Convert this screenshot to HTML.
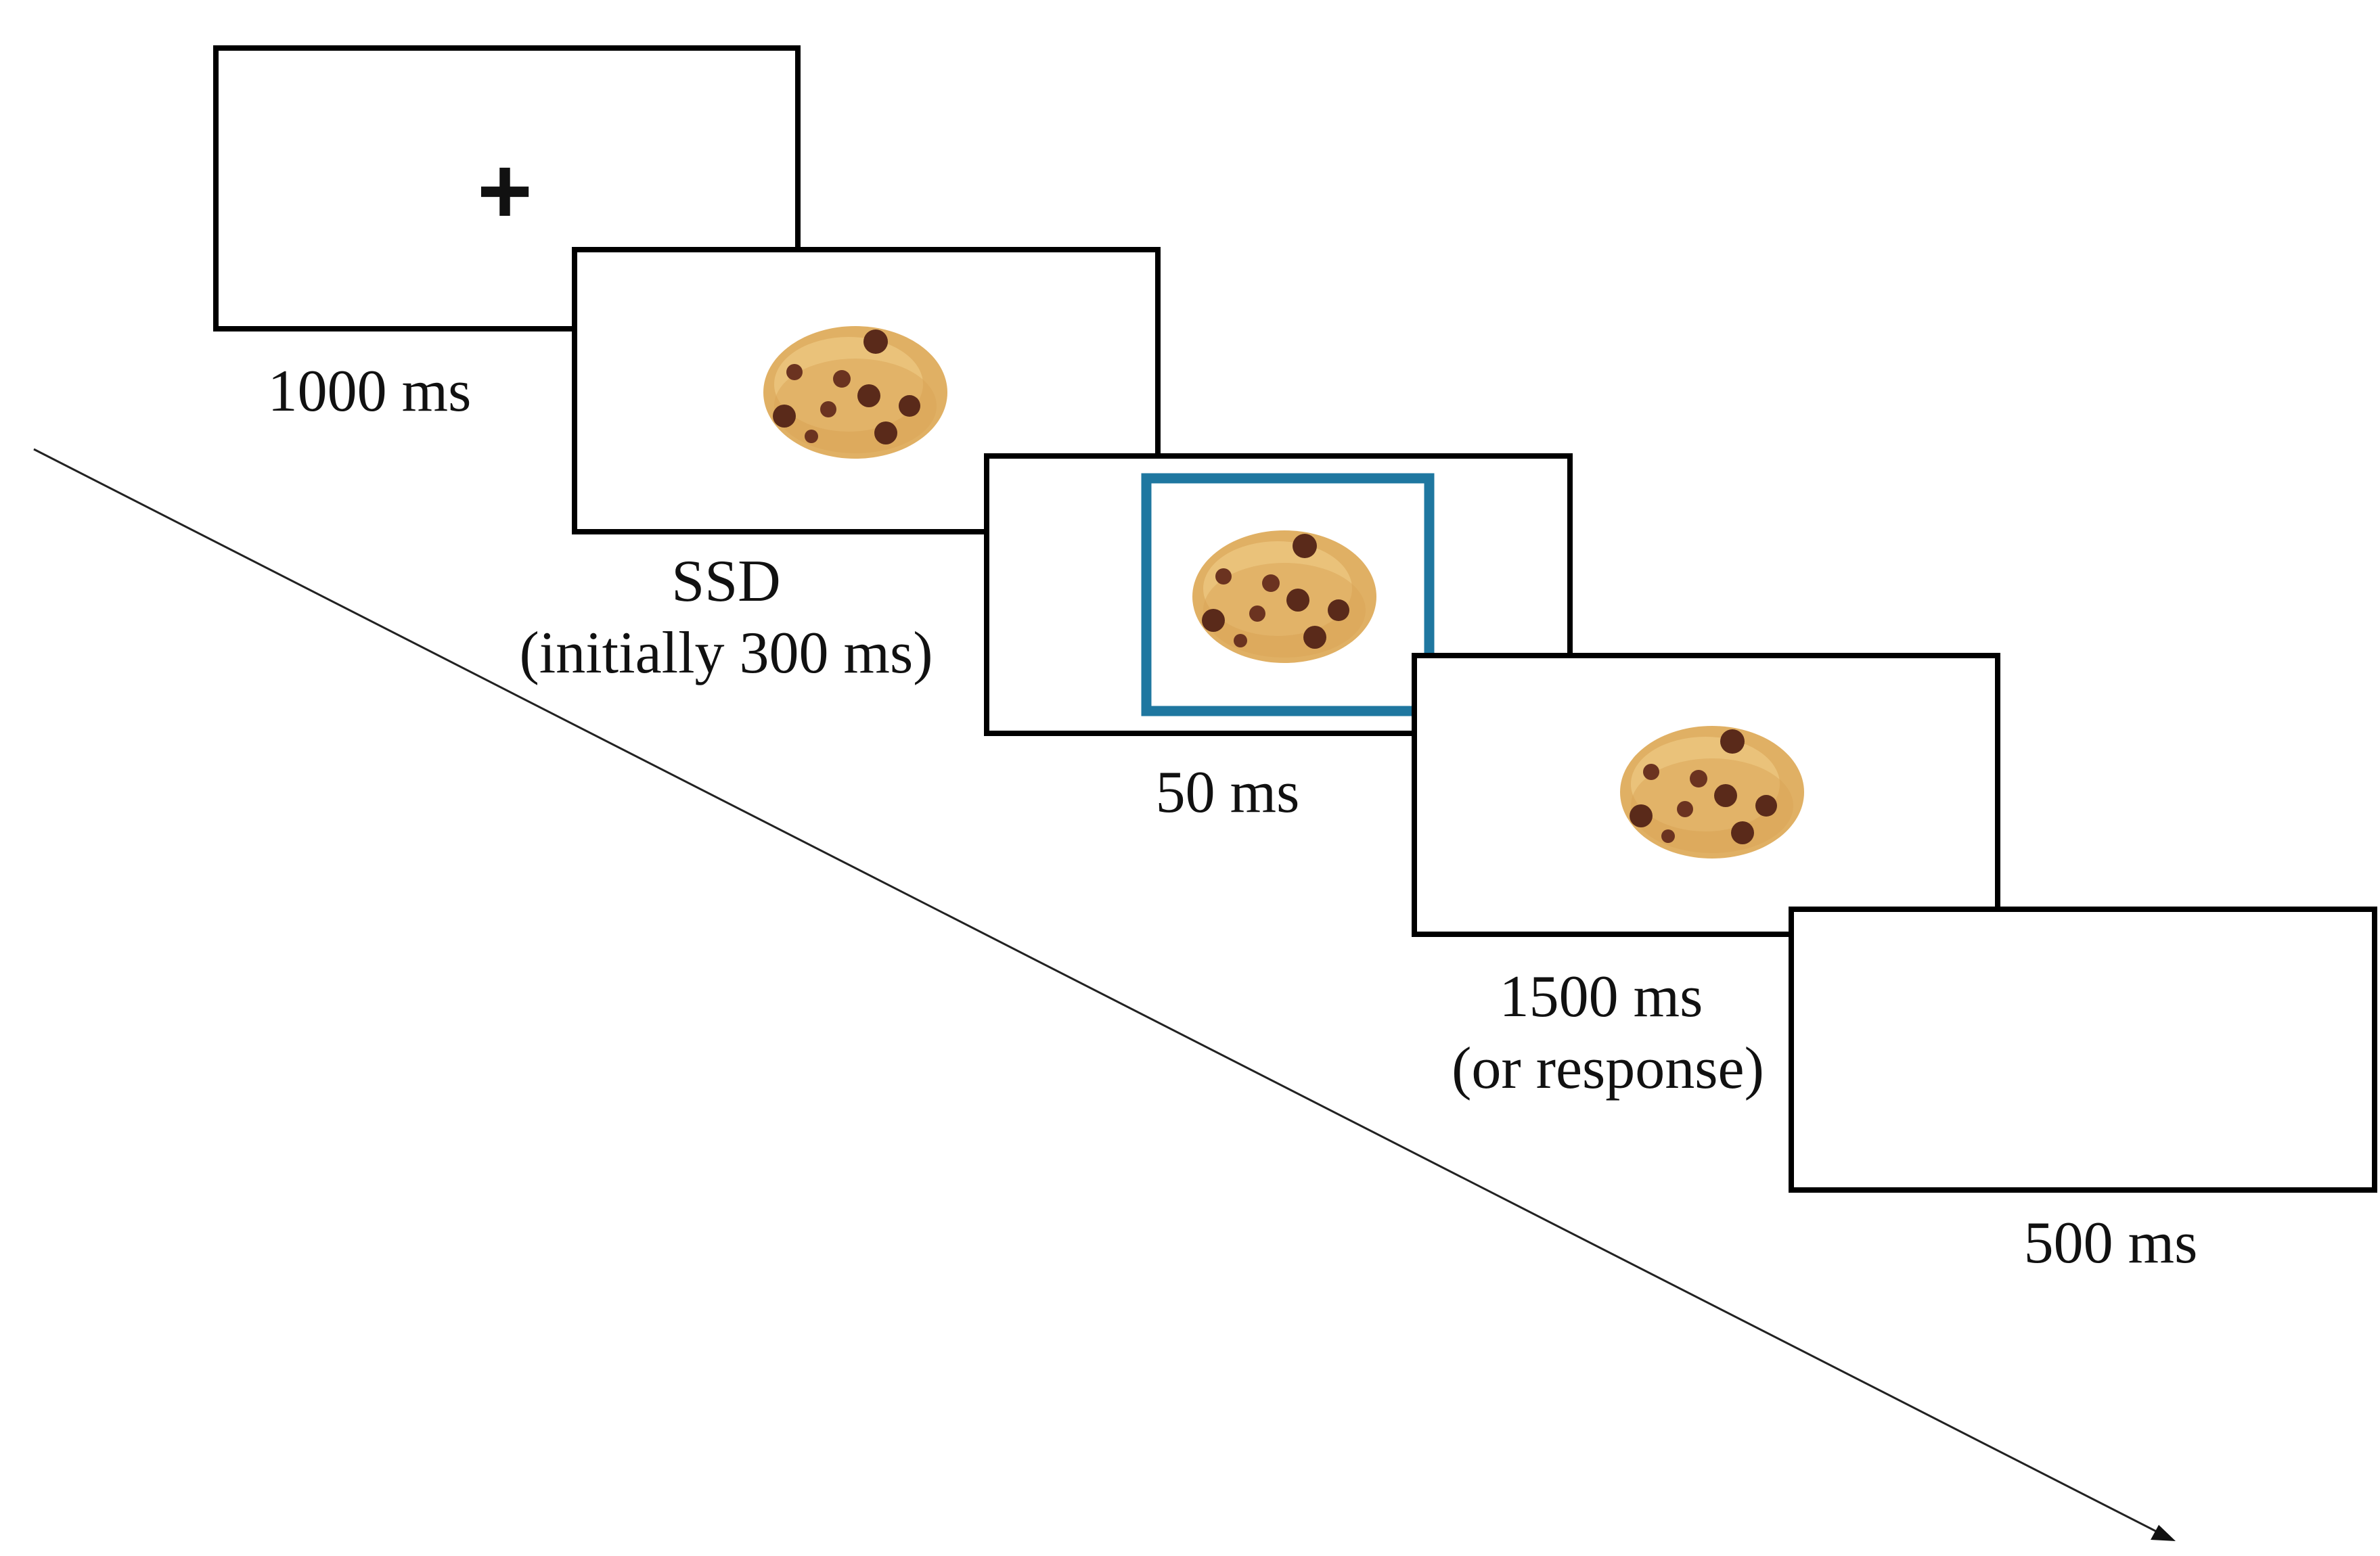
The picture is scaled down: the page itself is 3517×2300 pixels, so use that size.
<!DOCTYPE html>
<html><head><meta charset="utf-8"><style>
html,body{margin:0;padding:0;background:#fff;}
svg{display:block}
text{font-family:"Liberation Serif",serif;font-size:88px;fill:#111;}
</style></head><body>
<svg width="3517" height="2300" viewBox="0 0 3517 2300" xmlns="http://www.w3.org/2000/svg">
<defs>
<g id="cookie">
<ellipse cx="0" cy="0" rx="136" ry="98" fill="#e0b064"/>
<ellipse cx="-10" cy="-12" rx="110" ry="70" fill="#eac27a"/>
<ellipse cx="0" cy="20" rx="120" ry="70" fill="#d9a355" opacity="0.5"/>
<circle cx="30" cy="-75" r="18" fill="#5a2a1a"/>
<circle cx="-90" cy="-30" r="12" fill="#6b3320"/>
<circle cx="-20" cy="-20" r="13" fill="#6b3320"/>
<circle cx="20" cy="5" r="17" fill="#5a2a1a"/>
<circle cx="80" cy="20" r="16" fill="#5a2a1a"/>
<circle cx="-105" cy="35" r="17" fill="#5a2a1a"/>
<circle cx="-40" cy="25" r="12" fill="#6b3320"/>
<circle cx="45" cy="60" r="17" fill="#5a2a1a"/>
<circle cx="-65" cy="65" r="10" fill="#6b3320"/>
</g>
</defs>
<line x1="50" y1="664" x2="3195" y2="2268" stroke="#222" stroke-width="3"/>
<polygon points="3215,2278 3178,2276 3190,2254" fill="#111"/>
<rect x="319" y="71" width="860" height="415" fill="#fff" stroke="#000" stroke-width="8"/>
<text x="746" y="330" text-anchor="middle" style="font-family:'Liberation Sans',sans-serif;font-size:140px;font-weight:bold;">+</text>
<rect x="849" y="369" width="862" height="417" fill="#fff" stroke="#000" stroke-width="8"/>
<use href="#cookie" x="1264" y="580"/>
<rect x="1458" y="674" width="862" height="410" fill="#fff" stroke="#000" stroke-width="8"/>
<rect x="1694" y="707" width="418" height="344" fill="none" stroke="#1f77a0" stroke-width="15"/>
<use href="#cookie" x="1898" y="882"/>
<rect x="2090" y="969" width="862" height="412" fill="#fff" stroke="#000" stroke-width="8"/>
<use href="#cookie" x="2530" y="1171"/>
<rect x="2647" y="1344" width="862" height="415" fill="#fff" stroke="#000" stroke-width="8"/>
<text x="546" y="607" text-anchor="middle">1000 ms</text>
<text x="1073" y="888" text-anchor="middle">SSD</text>
<text x="1073" y="994" text-anchor="middle">(initially 300 ms)</text>
<text x="1814" y="1200" text-anchor="middle">50 ms</text>
<text x="2366" y="1502" text-anchor="middle">1500 ms</text>
<text x="2376" y="1608" text-anchor="middle">(or response)</text>
<text x="3119" y="1866" text-anchor="middle">500 ms</text>
</svg>
</body></html>
